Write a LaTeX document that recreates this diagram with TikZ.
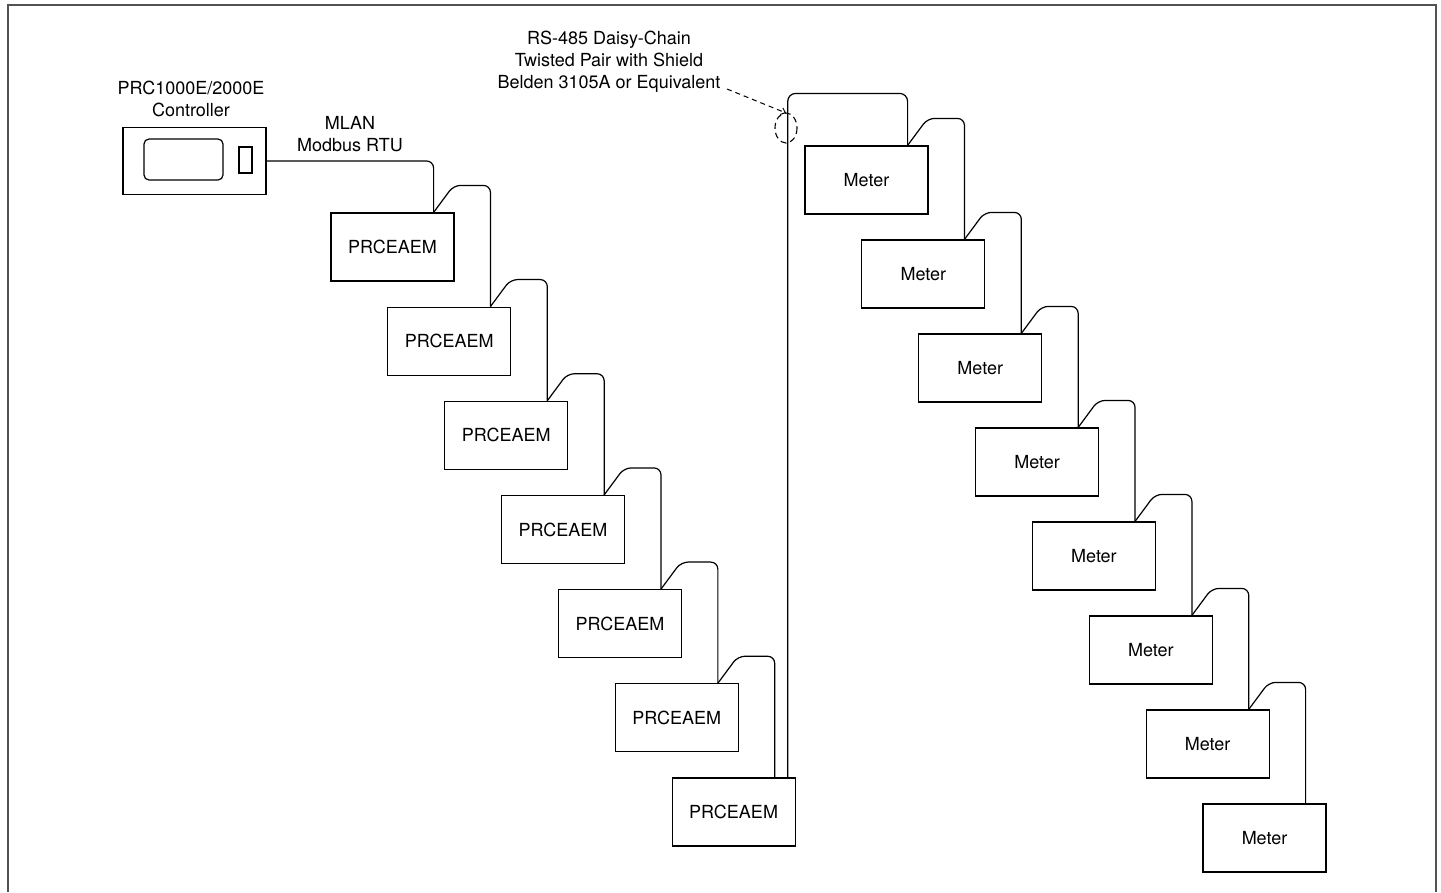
\documentclass[tikz,border=0pt]{standalone}
\usepackage{fontspec}
\setmainfont{TeX Gyre Heros}
\usetikzlibrary{calc,arrows.meta}
\begin{document}
\begin{tikzpicture}[x=1pt,y=-1pt,
  box/.style={draw,line width=1.2pt,minimum width=123pt,minimum height=68pt,inner sep=0pt,font=\fontsize{18}{21.6}\selectfont},
  cable/.style={line width=1.2pt,rounded corners=7pt},
  lbl/.style={align=center,font=\fontsize{18}{22}\selectfont,inner sep=0pt},
  frame/.style={line width=2.6pt,draw=black!68}]
\useasboundingbox (0,0) rectangle (1441,892);
% frame (open at the bottom)
\draw[frame] (8,892) -- (8,5) -- (1436,5) -- (1436,892);
% controller
\node[draw,line width=1.2pt,minimum width=143pt,minimum height=67pt,inner sep=0pt] (ctrl) at (194.5,161) {};
\node[draw,line width=1.2pt,rounded corners=5pt,minimum width=79pt,minimum height=41pt,inner sep=0pt] (screen) at (183.5,159.5) {};
\node[draw,line width=1.2pt,minimum width=13pt,minimum height=26pt,inner sep=0pt] (port) at (245.5,160) {};
\node[lbl] (ctrllbl) at (191,99) {PRC1000E/2000E\\Controller};
\node[lbl] (mlan) at (350,134) {MLAN\\Modbus RTU};
% PRCEAEM modules
\foreach \i in {0,...,6}
  \node[box] (p\i) at ({392.5+56.85*\i},{247+94.17*\i}) {PRCEAEM};
% meters
\foreach \j in {0,...,7}
  \node[box] (m\j) at ({866.5+56.86*\j},{180+94*\j}) {Meter};
% controller to first module
\draw[cable] (ctrl.east) -| ($(p0.north east)+(-21,0)$);
% daisy chain between modules
\foreach \i/\k in {0/1,1/2,2/3,3/4,4/5,5/6}
  \draw[cable] ($(p\i.north east)+(-21,0)$) -- ++(20,-27) -| ($(p\k.north east)+(-21,0)$);
% bus from last module to first meter
\draw[cable,rounded corners=8pt] ($(p6.north east)+(-8,0)$) |- ($(m0.north east)+(-21,-52)$) -- ($(m0.north east)+(-21,0)$);
% daisy chain between meters
\foreach \i/\k in {0/1,1/2,2/3,3/4,4/5,5/6,6/7}
  \draw[cable] ($(m\i.north east)+(-21,0)$) -- ++(20,-27) -| ($(m\k.north east)+(-21,0)$);
% callout
\node[lbl] (rs) at (609,62) {RS-485 Daisy-Chain\\Twisted Pair with Shield\\Belden 3105A or Equivalent};
\draw[line width=1.1pt,dash pattern=on 6pt off 4pt] (786,128) ellipse [x radius=11, y radius=15];
\coordinate (tip) at (786,113);
\coordinate (start) at (727,89);
\draw[line width=1pt,dash pattern=on 5pt off 4pt,-{Straight Barb[length=4pt,width=7pt]}] (start) -- (tip);
\end{tikzpicture}
\end{document}
